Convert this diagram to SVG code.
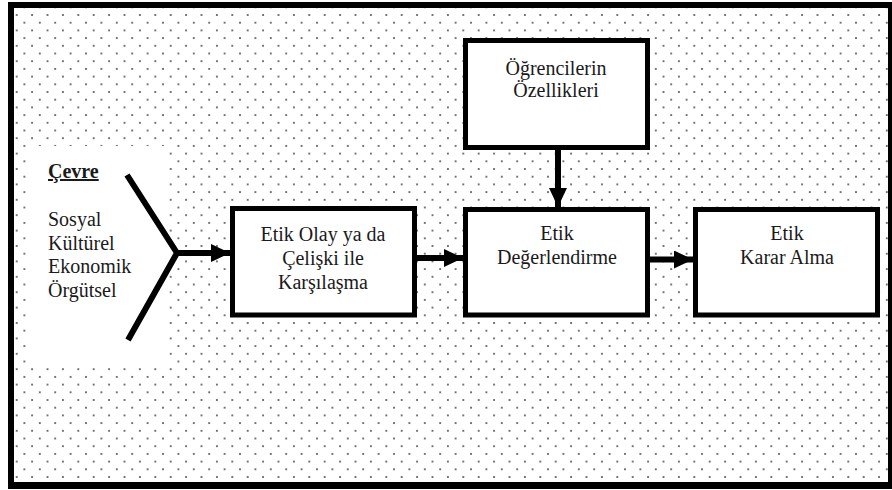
<svg xmlns="http://www.w3.org/2000/svg" width="892" height="490" viewBox="0 0 892 490">
<style>
.box{fill:#fff;stroke:#000;stroke-width:5}
text{font-family:'Liberation Serif','Times New Roman',serif;font-size:20px;fill:#1a1a1a}
.c{text-anchor:middle}
.ln{stroke:#000;stroke-width:6;fill:none}
</style>
<defs>
<pattern id="dots" patternUnits="userSpaceOnUse" x="16.7" y="15" width="15.4" height="15.4">
<circle cx="0" cy="0" r="0.9" fill="#333"/>
<circle cx="15.4" cy="0" r="0.9" fill="#333"/>
<circle cx="0" cy="15.4" r="0.9" fill="#333"/>
<circle cx="15.4" cy="15.4" r="0.9" fill="#333"/>
<circle cx="7.7" cy="7.7" r="0.9" fill="#333"/>
</pattern>
<marker id="ah" markerUnits="userSpaceOnUse" markerWidth="22" markerHeight="20" refX="19" refY="9" orient="auto">
<path d="M0,0 L19,9 L0,18 Z" fill="#000"/>
</marker>
</defs>
<rect x="0" y="0" width="892" height="490" fill="#fff"/>
<rect x="14" y="8" width="874" height="474" fill="url(#dots)"/>
<rect x="30" y="146" width="139" height="219" fill="#fff"/>
<g id="frame">
<rect x="8" y="2" width="6" height="487" fill="#000"/>
<rect x="8" y="2" width="884" height="6" fill="#000"/>
<rect x="8" y="482" width="884" height="7" fill="#000"/>
<rect x="888" y="2" width="4" height="487" fill="#000"/>
</g>
<g id="cevre" font-family="'Liberation Serif','Times New Roman',serif">
<text x="48" y="178" font-weight="bold" text-decoration="underline">Çevre</text>
<text x="48" y="226">Sosyal</text>
<text x="48" y="250">Kültürel</text>
<text x="48" y="273">Ekonomik</text>
<text x="48" y="297">Örgütsel</text>
</g>
<g id="box1" font-family="'Liberation Serif','Times New Roman',serif">
<rect class="box" x="232.5" y="208.5" width="182" height="106.5"/>
<text class="c" x="323" y="241">Etik Olay ya da</text>
<text class="c" x="323" y="265">Çelişki ile</text>
<text class="c" x="323" y="289">Karşılaşma</text>
</g>
<g id="box2" font-family="'Liberation Serif','Times New Roman',serif">
<rect class="box" x="465.5" y="209.5" width="182" height="105.5"/>
<text class="c" x="557" y="240">Etik</text>
<text class="c" x="557" y="264">Değerlendirme</text>
</g>
<g id="box3" font-family="'Liberation Serif','Times New Roman',serif">
<rect class="box" x="695.5" y="209.5" width="182" height="105.5"/>
<text class="c" x="787" y="240">Etik</text>
<text class="c" x="787" y="264">Karar Alma</text>
</g>
<g id="boxTop" font-family="'Liberation Serif','Times New Roman',serif">
<rect class="box" x="465.5" y="40.5" width="182" height="107"/>
<text class="c" x="556" y="75">Öğrencilerin</text>
<text class="c" x="556" y="97">Özellikleri</text>
</g>
<g id="connectors">
<path class="ln" d="M127,175 L177,253 L128,340"/>
<path class="ln" d="M177,253 L230,253" marker-end="url(#ah)"/>
<path class="ln" d="M417,258 L463,258" marker-end="url(#ah)"/>
<path class="ln" d="M650,259.5 L693,259.5" marker-end="url(#ah)"/>
<path class="ln" d="M558,150 L558,207" marker-end="url(#ah)"/>
</g>
</svg>
